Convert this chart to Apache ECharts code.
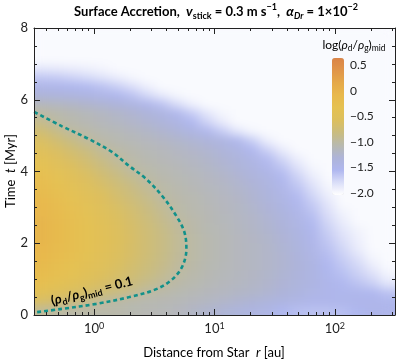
<!DOCTYPE html>
<html><head><meta charset="utf-8">
<script src="https://cdn.jsdelivr.net/npm/echarts@6/dist/echarts.min.js"></script>
<style>
html,body{margin:0;padding:0;background:#fff}
#wrap{position:relative;width:399px;height:363px;overflow:hidden}
#heat{position:absolute;left:34px;top:28px;width:361px;height:287px;filter:url(#smooth)}
#c{position:absolute;left:0;top:0;width:399px;height:363px}
</style>
</head><body>
<svg width="0" height="0" style="position:absolute">
  <filter id="smooth" x="0" y="0" width="1" height="1" color-interpolation-filters="sRGB">
    <feGaussianBlur stdDeviation="6 4" edgeMode="duplicate"/>
    <feComponentTransfer><feFuncA type="linear" slope="0" intercept="1"/></feComponentTransfer>
  </filter>
</svg>
<div id="wrap"><div id="heat"></div><div id="c"></div></div>
<script>
// ---------------- data ----------------
// log-spaced radial bin centres [au] (1/8 decade bins from 10^-0.5 to 10^2.5)
const rBinCentres = ['0.365','0.487','0.649','0.866','1.155','1.54','2.054','2.738','3.65','4.87','6.49','8.66',
  '11.55','15.4','20.5','27.4','36.5','48.7','64.9','86.6','115.5','154','205','274'];
// time bin centres [Myr]
const tBinCentres = ['0.125','0.375','0.625','0.875','1.125','1.375','1.625','1.875','2.125','2.375','2.625','2.875',
  '3.125','3.375','3.625','3.875','4.125','4.375','4.625','4.875','5.125','5.375','5.625','5.875',
  '6.125','6.375','6.625','6.875','7.125','7.375','7.625','7.875'];
// log10(rho_d/rho_g)_mid, one row per time bin (bottom to top);
// cells not listed are white in the picture (value at the bottom of the scale, -2)
const fieldRows = [
  [-0.97,-1.02,-1.05,-1.05,-1.05,-1.05,-1.08,-1.1,-1.12,-1.15,-1.2,-1.25,-1.3,-1.35,-1.4,-1.45,-1.55,-1.6,-1.62,-1.62,-1.6,-1.55,-1.5,-1.5],
  [-0.64,-0.72,-0.8,-0.89,-0.97,-1.03,-1.06,-1.08,-1.1,-1.12,-1.15,-1.18,-1.22,-1.26,-1.3,-1.35,-1.4,-1.45,-1.5,-1.5,-1.5,-1.5,-1.5,-1.52],
  [-0.44,-0.52,-0.6,-0.68,-0.76,-0.84,-0.92,-1.0,-1.04,-1.08,-1.11,-1.14,-1.17,-1.2,-1.23,-1.27,-1.32,-1.38,-1.45,-1.5,-1.52,-1.52,-1.55,-1.62],
  [-0.29,-0.38,-0.46,-0.55,-0.63,-0.72,-0.8,-0.89,-0.97,-1.03,-1.07,-1.11,-1.14,-1.17,-1.2,-1.24,-1.29,-1.35,-1.42,-1.5,-1.56,-1.62,-1.7,-1.85],
  [-0.19,-0.28,-0.37,-0.46,-0.55,-0.64,-0.73,-0.82,-0.91,-1.0,-1.05,-1.09,-1.13,-1.16,-1.19,-1.23,-1.28,-1.34,-1.42,-1.52,-1.6,-1.7,-1.8,-1.95],
  [-0.15,-0.24,-0.33,-0.42,-0.51,-0.6,-0.69,-0.78,-0.87,-0.97,-1.03,-1.08,-1.12,-1.15,-1.18,-1.22,-1.27,-1.33,-1.42,-1.55,-1.65,-1.75,-1.9,-2],
  [-0.1,-0.19,-0.29,-0.38,-0.47,-0.57,-0.66,-0.76,-0.85,-0.95,-1.02,-1.07,-1.11,-1.15,-1.18,-1.22,-1.27,-1.34,-1.44,-1.58,-1.7,-1.82,-1.97,-2],
  [-0.07,-0.16,-0.26,-0.36,-0.45,-0.55,-0.65,-0.74,-0.84,-0.94,-1.02,-1.07,-1.11,-1.15,-1.18,-1.22,-1.28,-1.36,-1.47,-1.62,-1.75,-1.9,-2,-2],
  [-0.05,-0.15,-0.25,-0.35,-0.44,-0.54,-0.64,-0.74,-0.84,-0.94,-1.02,-1.07,-1.11,-1.15,-1.19,-1.23,-1.29,-1.38,-1.5,-1.66,-1.8,-1.92,-2,-2],
  [-0.05,-0.15,-0.25,-0.35,-0.45,-0.55,-0.65,-0.75,-0.85,-0.95,-1.03,-1.08,-1.12,-1.16,-1.2,-1.25,-1.31,-1.4,-1.53,-1.7,-1.85,-1.95,-2,-2],
  [-0.05,-0.15,-0.26,-0.36,-0.46,-0.57,-0.67,-0.77,-0.88,-0.98,-1.04,-1.09,-1.13,-1.17,-1.21,-1.27,-1.34,-1.44,-1.57,-1.75,-1.9,-2],
  [-0.07,-0.18,-0.28,-0.39,-0.49,-0.6,-0.7,-0.81,-0.91,-1.02,-1.06,-1.1,-1.14,-1.18,-1.23,-1.29,-1.37,-1.48,-1.62,-1.8,-1.95,-2],
  [-0.1,-0.21,-0.32,-0.42,-0.53,-0.64,-0.75,-0.85,-0.96,-1.03,-1.07,-1.11,-1.15,-1.19,-1.25,-1.32,-1.41,-1.53,-1.68,-1.85,-2],
  [-0.15,-0.26,-0.37,-0.47,-0.58,-0.69,-0.8,-0.9,-1.01,-1.05,-1.09,-1.13,-1.17,-1.21,-1.27,-1.35,-1.45,-1.58,-1.75,-1.92,-2],
  [-0.2,-0.31,-0.42,-0.53,-0.64,-0.75,-0.85,-0.96,-1.03,-1.07,-1.11,-1.15,-1.19,-1.24,-1.3,-1.38,-1.5,-1.65,-1.82,-1.97],
  [-0.26,-0.37,-0.48,-0.59,-0.71,-0.82,-0.93,-1.02,-1.06,-1.1,-1.13,-1.17,-1.21,-1.27,-1.34,-1.43,-1.56,-1.72,-1.9,-2],
  [-0.34,-0.45,-0.56,-0.67,-0.79,-0.9,-1.01,-1.05,-1.09,-1.12,-1.16,-1.2,-1.25,-1.31,-1.39,-1.5,-1.64,-1.82,-1.97],
  [-0.42,-0.53,-0.64,-0.75,-0.87,-0.98,-1.04,-1.08,-1.12,-1.15,-1.19,-1.23,-1.28,-1.35,-1.45,-1.58,-1.75,-1.92],
  [-0.51,-0.62,-0.73,-0.84,-0.96,-1.03,-1.07,-1.11,-1.14,-1.18,-1.22,-1.27,-1.33,-1.42,-1.55,-1.72,-1.9],
  [-0.61,-0.73,-0.85,-0.97,-1.04,-1.08,-1.12,-1.15,-1.19,-1.23,-1.28,-1.33,-1.4,-1.52,-1.7,-1.92],
  [-0.73,-0.86,-0.99,-1.04,-1.08,-1.12,-1.16,-1.2,-1.25,-1.31,-1.4,-1.52,-1.68,-1.85,-1.97],
  [-0.88,-1.02,-1.06,-1.1,-1.14,-1.18,-1.22,-1.27,-1.33,-1.42,-1.55,-1.72,-1.88],
  [-1.0,-1.05,-1.09,-1.13,-1.17,-1.21,-1.26,-1.32,-1.4,-1.52,-1.68,-1.85,-1.97],
  [-1.14,-1.17,-1.2,-1.24,-1.28,-1.33,-1.4,-1.5,-1.62,-1.78,-1.92],
  [-1.32,-1.35,-1.38,-1.42,-1.47,-1.53,-1.62,-1.75,-1.88,-1.97],
  [-1.47,-1.5,-1.53,-1.57,-1.62,-1.7,-1.8,-1.92],
  [-1.66,-1.68,-1.72,-1.77,-1.83,-1.9,-1.97],
  [-1.86,-1.88,-1.9,-1.93,-1.96]
];
// dashed contour (rho_d/rho_g)_mid = 0.1
const contourR = [0.317,0.541,0.909,1.41,1.96,2.71,3.69,4.82,5.62,5.84,5.41,4.47,3.28,1.96,1.04,0.54,0.317];
const contourT = [5.66,5.26,4.90,4.54,4.15,3.79,3.31,2.76,2.31,1.84,1.36,1.00,0.72,0.50,0.31,0.17,0.07];
// ticks
const xMajorTicks = [1, 10, 100];
const xMinorTicks = [0.4,0.5,0.6,0.7,0.8,0.9,2,3,4,5,6,7,8,9,20,30,40,50,60,70,80,90,200,300];
const cbTicks = [0.5, 0, -0.5, -1.0, -1.5, -2.0];
const cbMin = -2.04, cbMax = 0.64;
const cbColors = ['#ffffff','#dadef8','#afb7ef','#aeb4d8','#b8b9ae','#c9bc80','#dcbf5e','#e5c152','#e8b84c','#e5a94a','#e0954a','#da8448'];

// ---------------- chart ----------------
const FONT = 'Lato, "Noto Sans", sans-serif';
const INK = '#222';
const TEAL = '#12918a';
const FLOOR = -2;
const heatData = [];
for (let i = 0; i < tBinCentres.length; i++) {
  for (let j = 0; j < rBinCentres.length; j++) {
    const row = fieldRows[i] || [];
    heatData.push([j, i, row[j] !== undefined ? row[j] : FLOOR]);
  }
}
const contourData = contourR.map((r, k) => [r, contourT[k]]);

// --- density layer (smoothed by the page filter, like an interpolated density plot)
const heat = echarts.init(document.getElementById('heat'), null, {renderer: 'canvas'});
heat.setOption({
  animation: false,
  backgroundColor: '#fff',
  grid: {left: 0, right: 0, top: 0, bottom: 0},
  xAxis: {type: 'category', data: rBinCentres, show: false},
  yAxis: {type: 'category', data: tBinCentres, show: false},
  visualMap: {type: 'continuous', show: false, min: cbMin, max: cbMax, inRange: {color: cbColors}},
  series: [{type: 'heatmap', data: heatData, silent: true, itemStyle: {borderWidth: 0},
            emphasis: {disabled: true}, progressive: 0}]
});

// --- axes, contour, colour bar, text
const G = {left: 34, top: 28, width: 361, height: 287};
const lineCol = {color: INK, width: 1};
function xAx(pos, ticks, len, line, labels) {
  return {
    gridIndex: 0, type: 'log', logBase: 10, min: 0.31623, max: 316.23, position: pos, z: 10,
    axisLine: {show: line, onZero: false, lineStyle: lineCol},
    axisTick: {show: true, inside: true, length: len, customValues: ticks, lineStyle: lineCol},
    axisLabel: labels ? {
      show: true, customValues: ticks, fontFamily: FONT, fontSize: 13, color: INK, margin: 7,
      formatter: v => '10{s|' + Math.round(Math.log10(v)) + '}',
      rich: {s: {fontSize: 9, fontFamily: FONT, color: INK, verticalAlign: 'top', lineHeight: 10}}
    } : {show: false},
    splitLine: {show: false}, minorTick: {show: false}
  };
}
function yAx(pos, labels) {
  return {
    gridIndex: 0, type: 'value', min: 0, max: 8, interval: 2, position: pos, z: 10,
    axisLine: {show: true, onZero: false, lineStyle: lineCol},
    axisTick: {show: true, inside: true, length: 6, lineStyle: lineCol},
    minorTick: {show: true, splitNumber: 4, length: 3, lineStyle: lineCol},
    axisLabel: labels ? {show: true, fontFamily: FONT, fontSize: 13, color: INK, margin: 6} : {show: false},
    splitLine: {show: false}, minorSplitLine: {show: false}
  };
}

const chart = echarts.init(document.getElementById('c'), null, {renderer: 'canvas'});
chart.setOption({
  animation: false,
  backgroundColor: 'transparent',
  textStyle: {fontFamily: FONT},
  grid: [G, {left: 332, top: 58, width: 12, height: 137}],
  xAxis: [
    xAx('bottom', xMajorTicks, 6, true, true),
    xAx('bottom', xMinorTicks, 3, false, false),
    xAx('top', xMajorTicks, 6, true, false),
    xAx('top', xMinorTicks, 3, false, false),
    {gridIndex: 1, type: 'value', show: false}
  ],
  yAxis: [
    yAx('left', true),
    yAx('right', false),
    {gridIndex: 1, type: 'value', min: cbMin, max: cbMax, position: 'right',
     axisLine: {show: false}, axisTick: {show: false}, splitLine: {show: false},
     axisLabel: {customValues: cbTicks, fontFamily: FONT, fontSize: 12, color: INK, margin: 6,
       formatter: v => (Math.abs(v) < 1e-9 ? '0' : v.toFixed(1).replace('-', '\u2212'))}}
  ],
  visualMap: {
    type: 'continuous', seriesIndex: 1, min: cbMin, max: cbMax, calculable: false, orient: 'vertical',
    left: 332, top: 58, itemWidth: 12, itemHeight: 137, padding: 0, hoverLink: false,
    inRange: {color: cbColors}
  },
  series: [
    {type: 'line', xAxisIndex: 0, yAxisIndex: 0, data: contourData, smooth: 0.35, symbol: 'none', z: 5, silent: true,
     lineStyle: {color: TEAL, width: 2.6, type: [4, 3]}},
    {type: 'scatter', xAxisIndex: 4, yAxisIndex: 2, data: [], silent: true}
  ],
  graphic: [
    {type: 'text', x: 216, y: 12, silent: true, style: {
      text: '{b|Surface Accretion,  }{bi|v}{sub|stick}{b| = 0.3 m s}{sup|\u22121}{b|,  }{bi|\u03b1}{subi|Dr}{b| = 1\u00d710}{sup|\u22122}',
      align: 'center', verticalAlign: 'middle',
      rich: {
        b: {fontFamily: FONT, fontSize: 13, fontWeight: 'bold', color: INK, lineHeight: 18},
        bi: {fontFamily: FONT, fontSize: 13.5, fontWeight: 'bold', fontStyle: 'italic', color: INK, lineHeight: 18},
        sub: {fontFamily: FONT, fontSize: 9, fontWeight: 'bold', color: INK, lineHeight: 11, verticalAlign: 'bottom'},
        subi: {fontFamily: FONT, fontSize: 9, fontWeight: 'bold', fontStyle: 'italic', color: INK, lineHeight: 11, verticalAlign: 'bottom'},
        sup: {fontFamily: FONT, fontSize: 9, fontWeight: 'bold', color: INK, lineHeight: 12, verticalAlign: 'top'}
      }}},
    {type: 'text', x: 354, y: 45, silent: true, style: {
      text: '{n|log(}{i|\u03c1}{s|d}{n|/}{i|\u03c1}{s|g}{n|)}{s|mid}',
      align: 'center', verticalAlign: 'middle',
      rich: {
        n: {fontFamily: FONT, fontSize: 12, color: INK, lineHeight: 16},
        i: {fontFamily: FONT, fontSize: 12, fontStyle: 'italic', color: INK, lineHeight: 16},
        s: {fontFamily: FONT, fontSize: 8.5, color: INK, lineHeight: 10, verticalAlign: 'bottom'}
      }}},
    {type: 'text', x: 214, y: 353, silent: true, style: {
      text: '{n|Distance from Star  }{i|r}{n| [au]}', align: 'center', verticalAlign: 'middle',
      rich: {n: {fontFamily: FONT, fontSize: 13, color: '#333'}, i: {fontFamily: FONT, fontSize: 13, fontStyle: 'italic', color: '#333'}}}},
    {type: 'text', x: 11, y: 171, rotation: Math.PI / 2, silent: true, style: {
      text: '{n|Time  }{i|t}{n| [Myr]}', align: 'center', verticalAlign: 'middle',
      rich: {n: {fontFamily: FONT, fontSize: 13, color: '#333'}, i: {fontFamily: FONT, fontSize: 13, fontStyle: 'italic', color: '#333'}}}},
    {type: 'text', x: 92, y: 291, rotation: 0.245, silent: true, z: 20, style: {
      text: '{n|(}{i|\u03c1}{s|d}{n|/}{i|\u03c1}{s|g}{n|)}{s|mid}{n| = 0.1}', align: 'center', verticalAlign: 'middle',
      rich: {
        n: {fontFamily: FONT, fontSize: 13, fontWeight: 'bold', color: TEAL, lineHeight: 17},
        i: {fontFamily: FONT, fontSize: 13, fontWeight: 'bold', fontStyle: 'italic', color: TEAL, lineHeight: 17},
        s: {fontFamily: FONT, fontSize: 9, fontWeight: 'bold', color: TEAL, lineHeight: 11, verticalAlign: 'bottom'}
      }}}
  ]
});
</script>
</body></html>
